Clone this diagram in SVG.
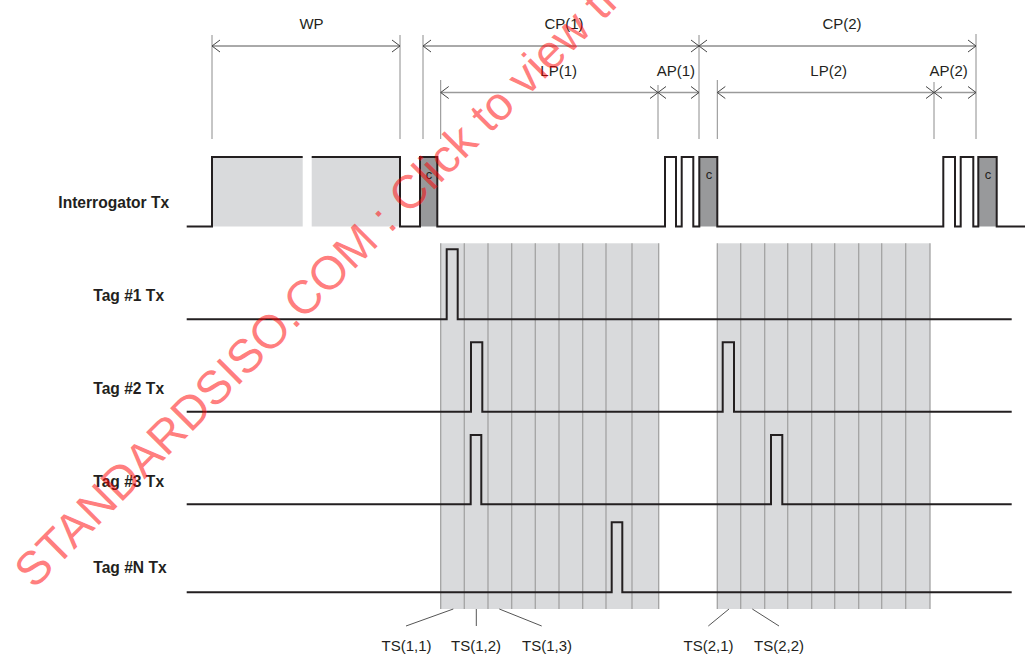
<svg xmlns="http://www.w3.org/2000/svg" width="1025" height="662" viewBox="0 0 1025 662">
<style>
.lbl{font-family:"Liberation Sans",Arial,sans-serif;font-size:15px;fill:#231f20}
.sig{font-family:"Liberation Sans",Arial,sans-serif;font-size:15.6px;font-weight:bold;fill:#231f20}
.c{font-family:"Liberation Sans",Arial,sans-serif;font-size:13px;fill:#231f20;text-anchor:middle}
.mid{text-anchor:middle}
.wave{fill:none;stroke:#231f20;stroke-width:2;stroke-linejoin:miter}
.ext{stroke:#8c8c8c;stroke-width:1;fill:none}
.dimA{stroke:#555;stroke-width:1;fill:none}
.dimB{stroke:#9a9a9a;stroke-width:1.4;fill:none}
.slot{stroke:#a3a3a3;stroke-width:1.3}
.shade{fill:#d9dadc}
.cfill{fill:#98999b}
.lead{stroke:#555;stroke-width:1;fill:none}
.wm{font-family:"Liberation Sans",Arial,sans-serif;font-size:47px;fill:#ff0000;fill-opacity:0.52}
</style>
<defs>
<marker id="chev" viewBox="-10 -8 12 16" refX="0" refY="0" markerWidth="12" markerHeight="16" markerUnits="userSpaceOnUse" orient="auto-start-reverse">
<path d="M-8,-6 L0,0 L-8,6" fill="none" stroke="#444" stroke-width="1"/>
</marker>
</defs>
<rect width="1025" height="662" fill="#fff"/>

<g id="slots-1">
<rect class="shade" x="440.7" y="243.3" width="218" height="365.7"/>
<path class="slot" d="M440.7,243.3V609M464.3,243.3V609M488,243.3V609M511.7,243.3V609M535.3,243.3V609M559,243.3V609M582.7,243.3V609M606,243.3V609M632,243.3V609M658.7,243.3V609"/>
</g>
<g id="slots-2">
<rect class="shade" x="717.3" y="243.3" width="212.7" height="365.7"/>
<path class="slot" d="M717.3,243.3V609M740.7,243.3V609M764.7,243.3V609M787.7,243.3V609M811.7,243.3V609M834.7,243.3V609M858.7,243.3V609M881.7,243.3V609M905.7,243.3V609M930,243.3V609"/>
</g>

<g id="dimensions">
<path class="ext" d="M212,35V139M400,35V139M423,35V139M440.7,80V139M658,85V139M699,35V139M717.3,80V139M934,82V139M976,34V139"/>
<line class="dimA" x1="212" y1="46" x2="400" y2="46" marker-start="url(#chev)" marker-end="url(#chev)"/>
<line class="dimA" x1="423" y1="46" x2="699" y2="46" marker-start="url(#chev)" marker-end="url(#chev)"/>
<line class="dimA" x1="699" y1="46" x2="976" y2="46" marker-start="url(#chev)" marker-end="url(#chev)"/>
<line class="dimB" x1="440.7" y1="92.5" x2="658" y2="92.5" marker-start="url(#chev)" marker-end="url(#chev)"/>
<line class="dimB" x1="658" y1="92.5" x2="699" y2="92.5" marker-start="url(#chev)" marker-end="url(#chev)"/>
<line class="dimB" x1="717.3" y1="92.5" x2="934" y2="92.5" marker-start="url(#chev)" marker-end="url(#chev)"/>
<line class="dimB" x1="934" y1="92.5" x2="976" y2="92.5" marker-start="url(#chev)" marker-end="url(#chev)"/>
<text class="lbl mid" x="311.5" y="29">WP</text>
<text class="lbl mid" x="564" y="29">CP(1)</text>
<text class="lbl mid" x="842" y="29">CP(2)</text>
<text class="lbl mid" x="558.7" y="76">LP(1)</text>
<text class="lbl mid" x="675.8" y="76">AP(1)</text>
<text class="lbl mid" x="828.7" y="76">LP(2)</text>
<text class="lbl mid" x="948.7" y="76">AP(2)</text>
</g>

<g id="interrogator-tx">
<rect class="shade" x="212" y="157" width="90.7" height="69.5"/>
<rect class="shade" x="311.7" y="157" width="88.3" height="69.5"/>
<rect class="cfill" x="420" y="157" width="17.3" height="69.5"/>
<rect class="cfill" x="699.3" y="157" width="18" height="69.5"/>
<rect class="cfill" x="978.3" y="157" width="18.4" height="69.5"/>
<path class="wave" d="M186.7,226.5H212V157H302.7"/>
<path class="wave" d="M311.7,157H400V226.5H420V157H437.3V226.5H665V157H676V226.5H681.7V157H693.3V226.5H699.3V157H717.3V226.5H943.3V157H955V226.5H960.7V157H973.3V226.5H978.3V157H996.7V226.5H1025"/>
<text class="c" x="429" y="179">c</text>
<text class="c" x="709" y="179">c</text>
<text class="c" x="988" y="179">c</text>
<text class="sig" x="58.3" y="208.3">Interrogator Tx</text>
</g>

<g id="tag1-tx">
<path class="wave" d="M186.7,319.3H446.7V249.3H457.7V319.3H1011.7"/>
<text class="sig" x="93.3" y="301">Tag #1 Tx</text>
</g>
<g id="tag2-tx">
<path class="wave" d="M186.7,411.8H471V342.3H482.3V411.8H722.7V342.3H734V411.8H1011.7"/>
<text class="sig" x="93.3" y="394">Tag #2 Tx</text>
</g>
<g id="tag3-tx">
<path class="wave" d="M186.7,504.3H470.7V435H481.3V504.3H771V435H782.3V504.3H1011.7"/>
<text class="sig" x="93.3" y="486.7">Tag #3 Tx</text>
</g>
<g id="tagN-tx">
<path class="wave" d="M186.7,592.3H611.7V522.3H622.3V592.3H1011.7"/>
<text class="sig" x="93.3" y="573.3">Tag #N Tx</text>
</g>

<g id="connectors">
<path class="lead" d="M453.3,609L406,626M476.3,609V626M499.3,609L541.7,626M729,609L708.3,626M752.3,609L779,626"/>
</g>
<g id="slot-labels">
<text class="lbl mid" x="406.5" y="651">TS(1,1)</text>
<text class="lbl mid" x="476" y="651">TS(1,2)</text>
<text class="lbl mid" x="547" y="651">TS(1,3)</text>
<text class="lbl mid" x="708.5" y="651">TS(2,1)</text>
<text class="lbl mid" x="779" y="651">TS(2,2)</text>
</g>

<text class="wm" transform="translate(34,590) rotate(-45)">STANDARDSISO.COM : Click to view the</text>
</svg>
